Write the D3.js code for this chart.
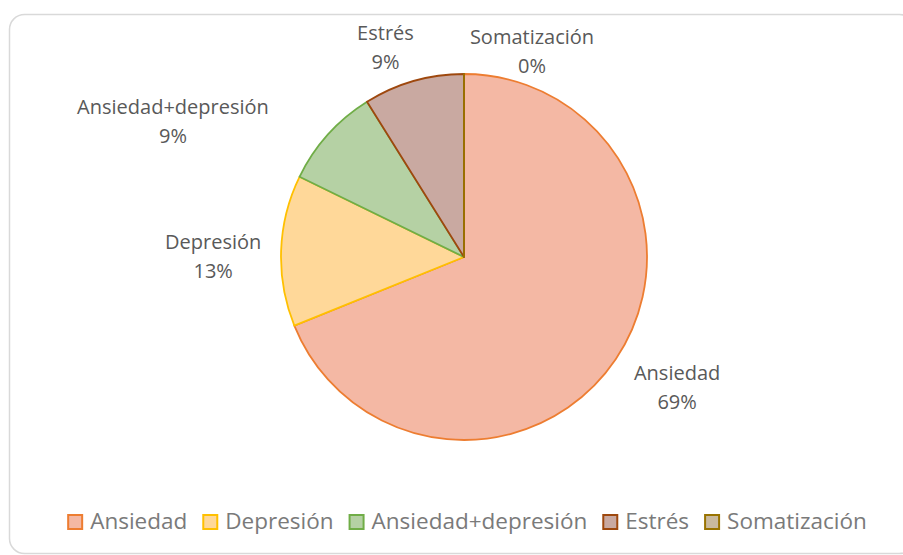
<!DOCTYPE html>
<html>
<head>
<meta charset="utf-8">
<script src="https://cdn.jsdelivr.net/npm/d3@7"></script>
<style>
    html, body { margin: 0; padding: 0; background: #fff; }
    svg { display: block; font-family: "Open Sans", Lato, sans-serif; }
</style>
</head>
<body>
<div id="chart"></div>
<script>
'use strict';

// Chart data (counts: 31 / 6 / 4 / 4 / 0 of 45)
var categories = ['Ansiedad', 'Depresión', 'Ansiedad+depresión', 'Estrés', 'Somatización'];
var counts     = [31, 6, 4, 4, 0];

// Styling per slice
var fillColors   = ['#F4B8A4', '#FFD899', '#B5D1A4', '#C9A9A1', '#C9B99E'];
var strokeColors = ['#ED7D31', '#FFC000', '#70AD47', '#9E480E', '#997300'];

// Nudges applied to the outside label centroids (Excel "best fit" moved some of them)
var labelNudge = [[10, 0], [-6, 15], [-109, 35], [-11, 33.5], [68, 46.5]];

var width  = 903,
    height = 555,
    cx     = 464,
    cy     = 257,
    radius = 183;

var data = categories.map(function (c, i) {
    return {name: c, count: counts[i], fill: fillColors[i], stroke: strokeColors[i], nudge: labelNudge[i]};
});
var total = d3.sum(counts);

var svg = d3.select('#chart').append('svg')
    .attr('width', width)
    .attr('height', height);

// chart area border
svg.append('rect')
    .attr('x', 9.5)
    .attr('y', 14.5)
    .attr('width', 905)
    .attr('height', 539)
    .attr('rx', 15)
    .attr('fill', '#fff')
    .attr('stroke', '#d9d9d9')
    .attr('stroke-width', 1.5);

var pie = d3.pie()
    .sort(null)
    .value(function (d) { return d.count; });

var arc = d3.arc()
    .innerRadius(0)
    .outerRadius(radius);

var labelArc = d3.arc()
    .innerRadius(radius + 62)
    .outerRadius(radius + 62);

var vis = svg.append('g')
    .attr('transform', 'translate(' + cx + ',' + cy + ')');

var arcs = pie(data);

vis.selectAll('path.slice')
    .data(arcs)
    .enter().append('path')
    .attr('class', 'slice')
    .attr('d', arc)
    .attr('fill', function (d) { return d.data.fill; })
    .attr('stroke', function (d) { return d.data.stroke; })
    .attr('stroke-width', 1.8)
    .attr('stroke-linejoin', 'round');

var labels = vis.selectAll('text.label')
    .data(arcs)
    .enter().append('text')
    .attr('class', 'label')
    .attr('text-anchor', 'middle')
    .style('font-size', '20px')
    .style('fill', '#595959')
    .attr('transform', function (d) {
        var c = labelArc.centroid(d);
        return 'translate(' + (c[0] + d.data.nudge[0]) + ',' + (c[1] + d.data.nudge[1]) + ')';
    });

labels.append('tspan')
    .attr('x', 0)
    .attr('y', -14.5)
    .text(function (d) { return d.data.name; });

labels.append('tspan')
    .attr('x', 0)
    .attr('y', 14.5)
    .text(function (d) { return Math.round(d.data.count / total * 100) + '%'; });

// legend, centred below the pie
var legend = svg.append('g');
var boxSize = 16, boxGap = 7, itemGap = 15, xPos = 0;

data.forEach(function (d) {
    var item = legend.append('g').attr('transform', 'translate(' + xPos + ',0)');
    item.append('rect')
        .attr('x', 1)
        .attr('y', -14)
        .attr('width', boxSize - 2)
        .attr('height', boxSize - 2)
        .attr('fill', d.fill)
        .attr('stroke', d.stroke)
        .attr('stroke-width', 2);
    var t = item.append('text')
        .attr('x', boxSize + boxGap)
        .attr('y', 0)
        .style('font-size', '22.5px')
        .style('fill', '#7a7a7a')
        .text(d.name);
    xPos += boxSize + boxGap + t.node().getComputedTextLength() + itemGap;
});

var legendWidth = xPos - itemGap;
legend.attr('transform', 'translate(' + (467 - legendWidth / 2) + ',529)');
</script>
</body>
</html>
